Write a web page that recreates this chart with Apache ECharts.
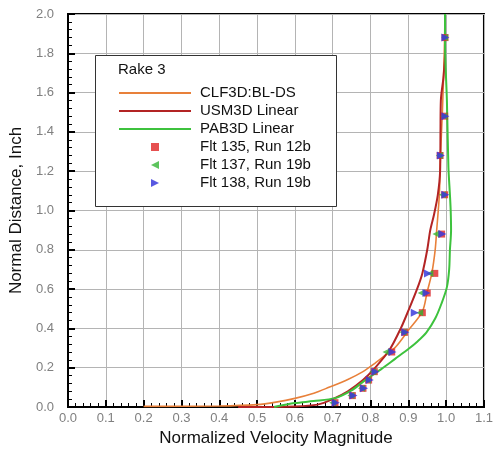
<!DOCTYPE html>
<html>
<head>
<meta charset="utf-8">
<script src="https://cdn.jsdelivr.net/npm/echarts@6/dist/echarts.min.js"></script>
<style>
	html, body { margin: 0; padding: 0; background: #fff; }
	#chart { width: 496px; height: 454px; }
</style>
</head>
<body>
<div id="chart"></div>
<script>
	// CFD profiles, [velocity, distance]
	var clfData = [[0.20,0.003],[0.40,0.005],[0.50,0.012],[0.55,0.025],[0.60,0.044],[0.65,0.07],[0.69,0.10],[0.74,0.14],[0.78,0.18],[0.81,0.22],[0.84,0.265],[0.867,0.307],[0.90,0.39],[0.937,0.485],[0.95,0.587],[0.962,0.68],[0.971,0.80],[0.975,0.90],[0.982,1.08],[0.985,1.28],[0.99,1.50],[0.995,1.80],[0.997,2.0]];
	var usmData = [[0.45,0.0],[0.60,0.003],[0.66,0.012],[0.70,0.04],[0.74,0.08],[0.78,0.137],[0.81,0.195],[0.85,0.29],[0.88,0.40],[0.90,0.49],[0.923,0.60],[0.937,0.68],[0.95,0.80],[0.958,0.90],[0.968,0.98],[0.978,1.08],[0.984,1.20],[0.985,1.40],[0.986,1.56],[0.993,1.68],[0.997,1.80],[0.997,2.0]];
	var pabData = [[0.545,0.0],[0.60,0.02],[0.65,0.03],[0.706,0.045],[0.75,0.085],[0.78,0.128],[0.80,0.155],[0.83,0.195],[0.865,0.245],[0.90,0.295],[0.925,0.335],[0.948,0.38],[0.971,0.45],[0.988,0.528],[1.002,0.61],[1.008,0.70],[1.01,0.80],[1.013,0.90],[1.012,1.0],[1.01,1.08],[1.006,1.22],[1.002,1.56],[0.997,1.85],[0.997,2.0]];

	// flight data
	var flt135 = [[0.706,0.022],[0.752,0.058],[0.78,0.095],[0.795,0.137],[0.81,0.18],[0.856,0.28],[0.89,0.38],[0.937,0.48],[0.95,0.58],[0.97,0.68],[0.988,0.88],[0.996,1.08],[0.984,1.28],[0.996,1.48],[0.997,1.88]];
	var flt137 = [[0.70,0.022],[0.748,0.058],[0.776,0.095],[0.792,0.137],[0.806,0.18],[0.841,0.28],[0.886,0.38],[0.93,0.48],[0.934,0.58],[0.957,0.68],[0.973,0.88],[0.99,1.08],[0.982,1.28],[0.994,1.48],[0.996,1.88]];
	var flt138 = [[0.708,0.022],[0.755,0.058],[0.783,0.095],[0.798,0.137],[0.813,0.18],[0.858,0.28],[0.892,0.38],[0.917,0.48],[0.948,0.58],[0.952,0.68],[0.99,0.88],[0.998,1.08],[0.986,1.28],[0.998,1.48],[0.998,1.88]];

	var lineNames = ['CLF3D:BL-DS','USM3D Linear','PAB3D Linear'];
	var pointNames = ['Flt 135, Run 12b','Flt 137, Run 19b','Flt 138, Run 19b'];

	var font = 'Liberation Sans, Arial, sans-serif';
	var lineIcon = 'path://M0,0L100,0L100,3L0,3Z';
	var squareIcon = 'path://M0,0L10,0L10,10L0,10Z';
	var leftTri = 'path://M10,0L0,5L10,10Z';
	var rightTri = 'path://M0,0L10,5L0,10Z';

	var myChart = echarts.init(document.getElementById('chart'));

	var axisCommon = {
		type: 'value',
		nameLocation: 'middle',
		nameTextStyle: { fontFamily: font, fontSize: 17, color: '#111' },
		axisLine: { show: true, lineStyle: { color: '#000', width: 2 } },
		axisTick: { show: true, inside: true, length: 7, lineStyle: { color: '#000', width: 2 } },
		minorTick: { show: true, splitNumber: 5, length: 4, lineStyle: { color: '#000', width: 1 } },
		splitLine: { show: true, lineStyle: { color: '#b4b4b4', width: 1 } },
		axisLabel: { fontFamily: font, fontSize: 13, color: '#808080', formatter: function (v) { return v.toFixed(1); } }
	};

	var legendData = lineNames.map(function (n) { return { name: n, icon: lineIcon }; })
		.concat([
			{ name: pointNames[0], icon: squareIcon },
			{ name: pointNames[1], icon: leftTri },
			{ name: pointNames[2], icon: rightTri }
		]);

	var option = {
		animation: false,
		grid: { left: 68, right: 7, top: 14, bottom: 47, show: true, borderColor: '#000', borderWidth: 2 },
		xAxis: Object.assign({}, axisCommon, {
			name: 'Normalized Velocity Magnitude',
			nameGap: 22,
			min: 0, max: 1.1, interval: 0.1,
			axisLabel: Object.assign({}, axisCommon.axisLabel, { margin: 5 })
		}),
		yAxis: Object.assign({}, axisCommon, {
			name: 'Normal Distance, Inch',
			nameGap: 40,
			min: 0, max: 2.0, interval: 0.2,
			axisLabel: Object.assign({}, axisCommon.axisLabel, { margin: 14 })
		}),
		graphic: [
			{ type: 'rect', left: 95, top: 55, z: 10, shape: { width: 241, height: 151 },
			  style: { fill: '#fff', stroke: '#333', lineWidth: 1 } },
			{ type: 'text', left: 118, top: 62, z: 11,
			  style: { text: 'Rake 3', font: '15px ' + font, fill: '#111' } }
		],
		legend: {
			data: legendData,
			orient: 'vertical',
			left: 114, top: 80,
			z: 12,
			itemWidth: 72, itemHeight: 8, itemGap: 2,
			symbolKeepAspect: true,
			textStyle: { fontFamily: font, fontSize: 15, color: '#111', lineHeight: 16, padding: [0, 0, 0, 4] }
		},
		series: [
			{ name: lineNames[0], type: 'line', data: clfData, showSymbol: false, symbol: 'none', smooth: 0.3,
			  lineStyle: { color: '#e8803a', width: 1.6 }, itemStyle: { color: '#e8803a' }, z: 3 },
			{ name: lineNames[1], type: 'line', data: usmData, showSymbol: false, symbol: 'none', smooth: 0.3,
			  lineStyle: { color: '#b32424', width: 2 }, itemStyle: { color: '#b32424' }, z: 3 },
			{ name: lineNames[2], type: 'line', data: pabData, showSymbol: false, symbol: 'none', smooth: 0.3,
			  lineStyle: { color: '#3dc23d', width: 2 }, itemStyle: { color: '#3dc23d' }, z: 3 },
			{ name: pointNames[0], type: 'scatter', data: flt135, symbol: squareIcon, symbolSize: 7,
			  itemStyle: { color: '#e02424' }, z: 4 },
			{ name: pointNames[1], type: 'scatter', data: flt137, symbol: leftTri, symbolSize: 7,
			  itemStyle: { color: '#35b535' }, z: 4 },
			{ name: pointNames[2], type: 'scatter', data: flt138, symbol: rightTri, symbolSize: 8,
			  itemStyle: { color: '#3b3bdc', opacity: 0.85 }, z: 5 }
		]
	};

	myChart.setOption(option);
</script>
</body>
</html>
